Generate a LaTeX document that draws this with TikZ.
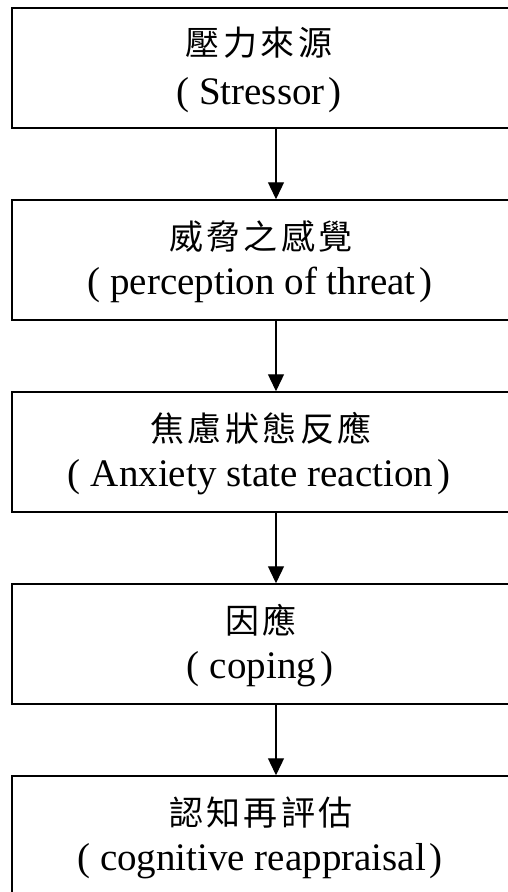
\documentclass[tikz,border=0pt]{standalone}
\usepackage{fontspec}
\setmainfont{Liberation Serif}
\newfontfamily\cjk[LetterSpace=10]{Noto Sans CJK TC}
\usetikzlibrary{arrows.meta}
\tikzset{
  flowbox/.style={draw=black, line width=1.5pt, rectangle, minimum width=498pt, minimum height=120pt, inner sep=0pt},
  zhtext/.style={font=\cjk\fontsize{34pt}{40pt}\selectfont, inner sep=0pt, anchor=center},
  entext/.style={font=\fontsize{39pt}{44pt}\selectfont, inner sep=0pt, anchor=base},
  flowarrow/.style={draw=black, line width=1.3pt, -{Triangle[length=17pt,width=16pt]}}
}
\newcommand{\pn}[1]{(\hspace{10pt}#1\hspace{4pt})}
\begin{document}
\begin{tikzpicture}[x=1pt,y=-1pt]
\useasboundingbox (0,0) rectangle (508,892);
\clip (0,0) rectangle (508,892);
\fill[white] (0,0) rectangle (508,892);
\node[flowbox] (b1) at (261,68) {};
\node[flowbox] (b2) at (261,260) {};
\node[flowbox] (b3) at (261,452) {};
\node[flowbox] (b4) at (261,644) {};
\node[flowbox] (b5) at (261,836) {};
\node[zhtext] (z1) at ([xshift=-2pt,yshift=-35pt]b1.north) {壓力來源};
\node[entext] (e1) at ([xshift=-2pt,yshift=-97pt]b1.north) {\pn{Stressor}};
\node[zhtext] (z2) at ([xshift=0pt,yshift=-37pt]b2.north) {威脅之感覺};
\node[entext] (e2) at ([xshift=-1pt,yshift=-95pt]b2.north) {\pn{perception of threat}};
\node[zhtext] (z3) at ([xshift=0pt,yshift=-37pt]b3.north) {焦慮狀態反應};
\node[entext] (e3) at ([xshift=-2pt,yshift=-95pt]b3.north) {\pn{Anxiety state reaction}};
\node[zhtext] (z4) at ([xshift=0pt,yshift=-37pt]b4.north) {因應};
\node[entext] (e4) at ([xshift=-1pt,yshift=-95pt]b4.north) {\pn{coping}};
\node[zhtext] (z5) at ([xshift=0pt,yshift=-37pt]b5.north) {認知再評估};
\node[entext] (e5) at ([xshift=-1pt,yshift=-95pt]b5.north) {\pn{cognitive reappraisal}};
\draw[flowarrow] ([xshift=15pt]b1.south) -- ([xshift=15pt]b2.north);
\draw[flowarrow] ([xshift=15pt]b2.south) -- ([xshift=15pt]b3.north);
\draw[flowarrow] ([xshift=15pt]b3.south) -- ([xshift=15pt]b4.north);
\draw[flowarrow] ([xshift=15pt]b4.south) -- ([xshift=15pt]b5.north);
\end{tikzpicture}
\end{document}
